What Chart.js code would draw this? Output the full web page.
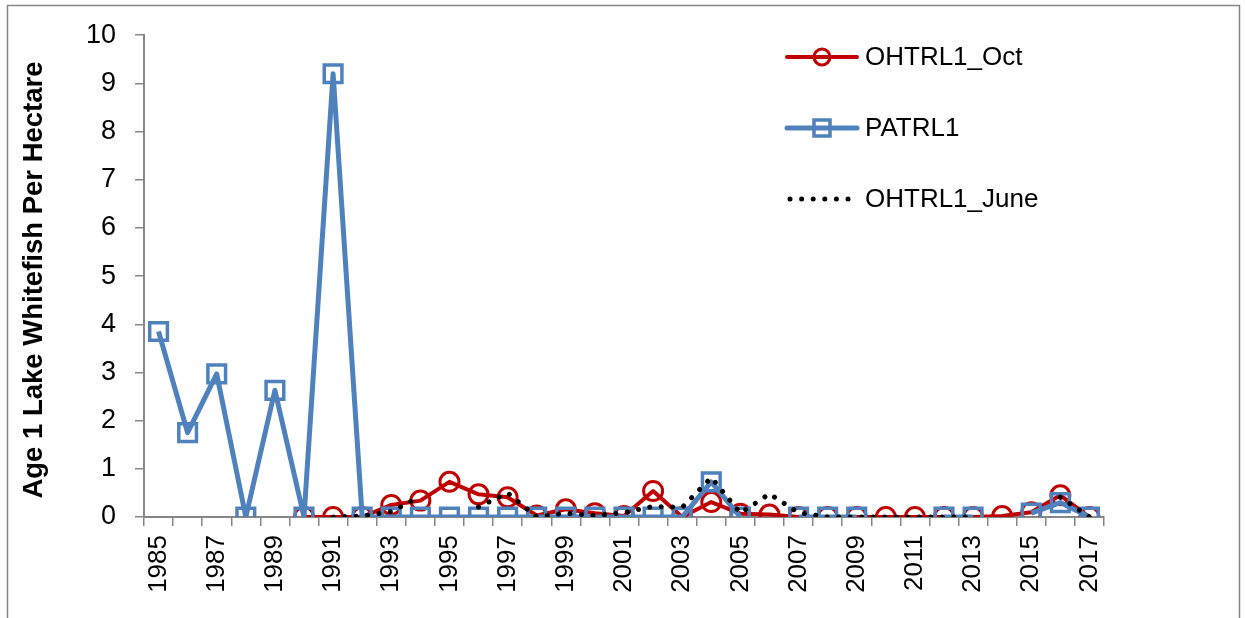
<!DOCTYPE html>
<html>
<head>
<meta charset="utf-8">
<script src="https://cdn.jsdelivr.net/npm/chart.js@4.4.1/dist/chart.umd.min.js"></script>
<style>
  html, body { margin: 0; padding: 0; background: #fff; }
  #wrap { position: relative; width: 1245px; height: 618px; }
</style>
</head>
<body>
<div id="wrap"><canvas id="chart_whitefish" width="1245" height="618"></canvas></div>
<script>
// survey years
const years = ['1985','1986','1987','1988','1989','1990','1991','1992','1993','1994','1995',
  '1996','1997','1998','1999','2000','2001','2002','2003','2004','2005','2006','2007','2008',
  '2009','2010','2011','2012','2013','2014','2015','2016','2017'];

// age 1 whitefish per hectare, one array per trawl series
const ohtrl1Oct = [null, null, null, null, null, 0, 0, 0, 0.25, 0.34, 0.73,
  0.47, 0.41, 0.03, 0.16, 0.08, 0.02, 0.54, 0, 0.31, 0.07, 0.05, 0, 0,
  0, 0, 0, 0, 0, 0.02, 0.1, 0.45, 0];
const patrl1 = [3.85, 1.75, 2.97, 0, 2.63, 0, 9.2, 0, 0, 0, 0,
  0, 0, 0, 0, 0, 0, 0, 0, 0.73, 0, null, 0, 0,
  0, null, null, 0, 0, null, 0.08, 0.3, 0];
const ohtrl1June = [null, null, null, null, null, null, 0, 0.02, 0.11, 0.43, null,
  0.21, 0.5, 0, 0.08, 0.03, 0.09, 0.22, 0.2, 0.82, 0.08, 0.48, 0.09, 0,
  0, 0, 0, 0, 0, null, null, 0.41, 0];

const yTicks = [0, 1, 2, 3, 4, 5, 6, 7, 8, 9, 10];
const yTitle = 'Age 1 Lake Whitefish Per Hectare';

const ROJO = '#C00000';
const AZUL = '#4F81BD';
const GRIS = '#868686';
const FUENTE = "'Liberation Sans', Arial, sans-serif";

// outer frame, rotated axis title and the legend inside the plot
const extras = {
  id: 'extras',
  beforeDraw(chart) {
    const ctx = chart.ctx;
    ctx.save();
    ctx.fillStyle = '#fff';
    ctx.fillRect(0, 0, chart.width, chart.height);
    ctx.strokeStyle = GRIS;
    ctx.lineWidth = 1.5;
    ctx.strokeRect(7.5, 5.5, 1232, 700);
    ctx.restore();
  },
  afterDraw(chart) {
    const ctx = chart.ctx;
    ctx.save();
    ctx.fillStyle = '#000';
    ctx.font = 'bold 27.5px ' + FUENTE;
    ctx.translate(42, 280);
    ctx.rotate(-Math.PI / 2);
    ctx.textAlign = 'center';
    ctx.textBaseline = 'alphabetic';
    ctx.fillText(yTitle, 0, 0);
    ctx.restore();

    const x0 = 787, x1 = 857, xm = 822, xt = 865;
    ctx.save();
    ctx.font = '26px ' + FUENTE;
    ctx.textBaseline = 'middle';
    ctx.fillStyle = '#000';

    // OHTRL1_Oct
    ctx.strokeStyle = ROJO;
    ctx.lineWidth = 4;
    ctx.lineCap = 'round';
    ctx.beginPath(); ctx.moveTo(x0, 57); ctx.lineTo(x1, 57); ctx.stroke();
    ctx.lineWidth = 3;
    ctx.beginPath(); ctx.arc(xm, 57, 8, 0, Math.PI * 2); ctx.stroke();
    ctx.fillText(chart.data.datasets[2].label, xt, 58);

    // PATRL1
    ctx.strokeStyle = AZUL;
    ctx.lineWidth = 5;
    ctx.beginPath(); ctx.moveTo(x0, 128); ctx.lineTo(x1, 128); ctx.stroke();
    ctx.lineWidth = 3.5;
    ctx.strokeRect(xm - 8, 128 - 8, 16, 16);
    ctx.fillText(chart.data.datasets[1].label, xt, 129);

    // OHTRL1_June
    ctx.fillStyle = '#000';
    for (let i = 0; i < 6; i++) {
      ctx.beginPath(); ctx.arc(790 + i * 11.6, 199, 2.5, 0, Math.PI * 2); ctx.fill();
    }
    ctx.fillText(chart.data.datasets[0].label, xt, 200);
    ctx.restore();
  }
};

const ctx = document.getElementById('chart_whitefish').getContext('2d');
new Chart(ctx, {
  type: 'line',
  data: {
    labels: years,
    datasets: [
      {
        label: 'OHTRL1_June',
        data: ohtrl1June,
        borderColor: '#000',
        borderWidth: 5,
        borderDash: [0.01, 11.5],
        borderCapStyle: 'round',
        pointRadius: 0,
        tension: 0,
        spanGaps: false,
        order: 1
      },
      {
        label: 'PATRL1',
        data: patrl1,
        borderColor: AZUL,
        borderWidth: 5,
        pointStyle: 'rect',
        pointRadius: 12.5,
        pointBorderWidth: 3.5,
        pointBorderColor: AZUL,
        pointBackgroundColor: 'rgba(0,0,0,0)',
        tension: 0,
        spanGaps: false,
        order: 2
      },
      {
        label: 'OHTRL1_Oct',
        data: ohtrl1Oct,
        borderColor: ROJO,
        borderWidth: 4,
        pointStyle: 'circle',
        pointRadius: 9.5,
        pointBorderWidth: 3,
        pointBorderColor: ROJO,
        pointBackgroundColor: 'rgba(0,0,0,0)',
        tension: 0,
        spanGaps: false,
        order: 3
      }
    ]
  },
  options: {
    responsive: false,
    animation: false,
    layout: { autoPadding: false, padding: { top: 27, right: 141, left: 0, bottom: 0 } },
    plugins: {
      legend: { display: false },
      tooltip: { enabled: false }
    },
    elements: { line: { borderJoinStyle: 'round' } },
    scales: {
      x: {
        type: 'category',
        offset: true,
        afterFit: (scale) => { scale.height = 101; },
        grid: {
          offset: true,
          drawOnChartArea: false,
          drawTicks: true,
          tickLength: 9,
          color: GRIS,
          lineWidth: 1.5
        },
        border: { color: GRIS, width: 2 },
        ticks: {
          autoSkip: false,
          maxRotation: 90,
          minRotation: 90,
          padding: 9,
          color: '#000',
          font: { family: FUENTE, size: 26 },
          callback: (v, i) => (i % 2 === 0 ? years[i] : '')
        }
      },
      y: {
        min: yTicks[0],
        max: yTicks[yTicks.length - 1],
        afterFit: (scale) => { scale.width = 144; },
        afterBuildTicks: (scale) => { scale.ticks = yTicks.map(v => ({ value: v })); },
        grid: {
          drawOnChartArea: false,
          drawTicks: true,
          tickLength: 9,
          color: GRIS,
          lineWidth: 1.5
        },
        border: { color: GRIS, width: 2 },
        ticks: {
          padding: 19,
          color: '#000',
          font: { family: FUENTE, size: 27 }
        }
      }
    }
  },
  plugins: [extras]
});
</script>
</body>
</html>
